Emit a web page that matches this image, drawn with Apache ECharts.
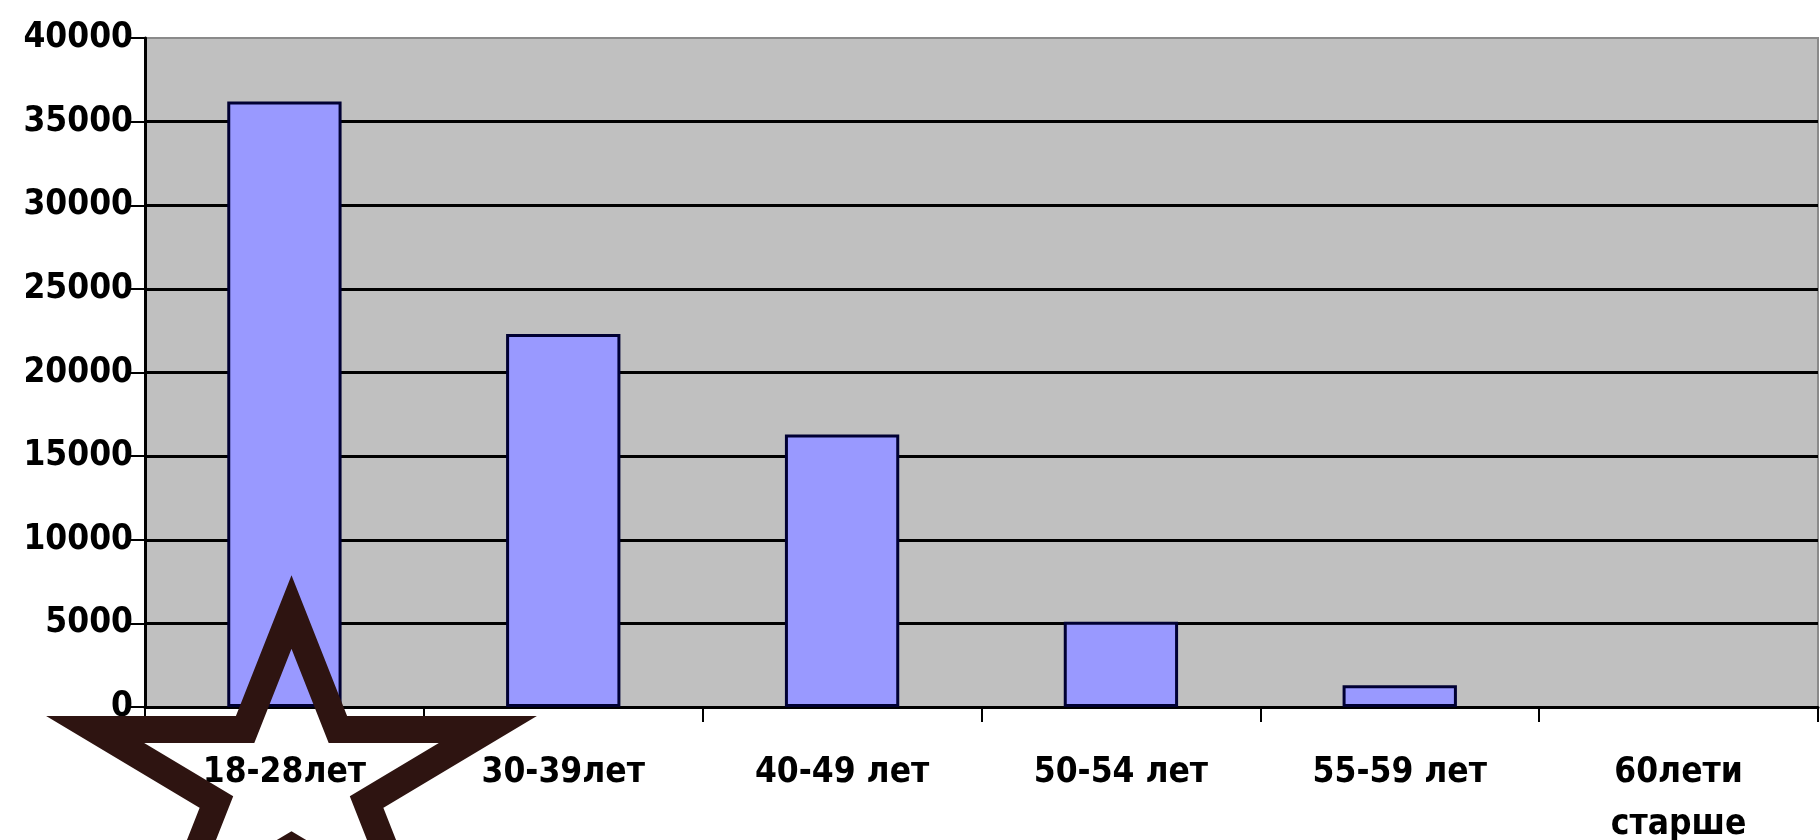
<!DOCTYPE html>
<html>
<head>
<meta charset="utf-8">
<style>
  html, body { margin: 0; padding: 0; background: #fff; }
  #chart { width: 1820px; height: 840px; }
</style>
<script src="https://cdn.jsdelivr.net/npm/echarts@6/dist/echarts.min.js"></script>
</head>
<body>
<div id="chart"></div>
<script>
// data
var categories = ['18-28лет', '30-39лет', '40-49 лет', '50-54 лет', '55-59 лет', '60лети\nстарше'];
var values = [36200, 22300, 16300, 5100, 1300, 0];
var yMin = 0;
var yMax = 40000;
var yStep = 5000;

// the decorative star outline in the lower left corner (centre line of the stroke)
function starPoints(cx, cy, R, sy) {
    var pts = [];
    for (var i = 0; i < 10; i++) {
        var a = (-90 + i * 36) * Math.PI / 180;
        var rad = i % 2 === 0 ? R : R * 0.382;
        pts.push([cx + rad * Math.cos(a), cy + rad * Math.sin(a) * sy]);
    }
    return pts;
}

var labelFont = 'DejaVu Sans Condensed';

// a zero bar has no visible outline in the original
var barData = values.map(function (v) {
    return v === 0 ? { value: v, itemStyle: { borderWidth: 0 } } : v;
});

var chart = echarts.init(document.getElementById('chart'));
var option = {
    backgroundColor: '#ffffff',
    animation: false,
    grid: {
        left: 145,
        top: 38,
        right: 2,
        bottom: 133,
        outerBoundsMode: 'none',
        show: true,
        backgroundColor: '#c0c0c0',
        borderColor: '#8a8a8a',
        borderWidth: 2
    },
    xAxis: {
        type: 'category',
        data: categories,
        axisLine: { lineStyle: { color: '#000', width: 3 } },
        axisTick: { show: true, length: 15, lineStyle: { color: '#000', width: 2 } },
        axisLabel: {
            color: '#000',
            fontFamily: labelFont,
            fontWeight: 'bold',
            fontSize: 35,
            lineHeight: 52,
            margin: 40,
            interval: 0
        }
    },
    yAxis: {
        type: 'value',
        min: yMin,
        max: yMax,
        interval: yStep,
        axisLine: { show: true, lineStyle: { color: '#000', width: 3 } },
        axisTick: { show: true, length: 15, lineStyle: { color: '#000', width: 2 } },
        axisLabel: {
            color: '#000',
            fontFamily: labelFont,
            fontWeight: 'bold',
            fontSize: 35,
            margin: 12,
            formatter: function (v) { return String(v); }
        },
        splitLine: {
            show: true,
            showMaxLine: false,
            lineStyle: { color: '#000', width: 3 }
        }
    },
    series: [{
        type: 'bar',
        data: barData,
        barWidth: '41%',
        itemStyle: {
            color: '#9999ff',
            borderColor: '#000033',
            borderWidth: 3
        }
    }],
    graphic: [{
        type: 'polygon',
        z: 100,
        shape: { points: starPoints(291.5, 782, 206.6, 0.823) },
        style: {
            fill: 'none',
            stroke: '#2e1411',
            lineWidth: 27,
            lineJoin: 'miter',
            miterLimit: 10
        }
    }]
};

option && chart.setOption(option);
</script>
</body>
</html>
